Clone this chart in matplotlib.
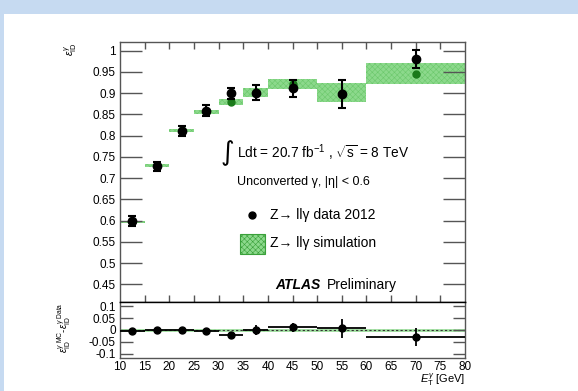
import numpy as np
import matplotlib
matplotlib.use('Agg')
import matplotlib.pyplot as plt
from matplotlib.patches import Rectangle
from matplotlib.lines import Line2D

plt.rcParams['font.family'] = ['Liberation Sans', 'DejaVu Sans']
plt.rcParams['mathtext.fontset'] = 'custom'
plt.rcParams['mathtext.rm'] = 'Liberation Sans'
plt.rcParams['mathtext.it'] = 'Liberation Sans:italic'
plt.rcParams['hatch.color'] = '#6cc86c'
plt.rcParams['hatch.linewidth'] = 0.4

# bins in E_T (GeV)
bin_lo = [10, 15, 20, 25, 30, 35, 40, 50, 60]
bin_hi = [15, 20, 25, 30, 35, 40, 50, 60, 80]

# data efficiency
eff_data = [0.599, 0.728, 0.811, 0.858, 0.900, 0.901, 0.911, 0.897, 0.980]
err_data = [0.012, 0.011, 0.012, 0.013, 0.013, 0.018, 0.020, 0.033, 0.022]

# MC efficiency and band half-width
eff_mc = [0.597, 0.730, 0.8125, 0.855, 0.879, 0.9025, 0.922, 0.901, 0.946]
err_mc = [0.003, 0.003, 0.003, 0.005, 0.007, 0.0105, 0.012, 0.022, 0.024]

# MC - data difference
diff = [-0.003, 0.0, 0.0, -0.006, -0.020, 0.0, 0.011, 0.007, -0.030]
diff_err = [0.008, 0.006, 0.006, 0.008, 0.010, 0.020, 0.020, 0.040, 0.037]

lo = np.array(bin_lo, dtype=float)
hi = np.array(bin_hi, dtype=float)
xc = (lo + hi) / 2
xe = (hi - lo) / 2

W, H = 578, 391
fig = plt.figure(figsize=(W / 100, H / 100), dpi=100)
fig.patch.set_facecolor('white')

# light blue frame of the page
fig.add_artist(Rectangle((0, 1 - 14 / H), 1, 14 / H, transform=fig.transFigure,
                         facecolor='#c6daf1', edgecolor='none'))
fig.add_artist(Rectangle((0, 0), 3.5 / W, 1, transform=fig.transFigure,
                         facecolor='#c6daf1', edgecolor='none'))

def fx(x):
    return x / W

def fy(y):
    return 1 - y / H

ax = fig.add_axes([fx(120), fy(301.7), 345 / W, 260 / H])
ax2 = fig.add_axes([fx(120), fy(358.3), 345 / W, 56.6 / H])

# simulation boxes
green = '#8cd98c'
ax.bar(xc, 2 * np.array(err_mc), width=hi - lo, bottom=np.array(eff_mc) - np.array(err_mc),
       color=green, hatch='xxxxxx', linewidth=0, zorder=1)
ax.plot(xc, eff_mc, 'o', color='#1a7a1a', markersize=5, zorder=2)
ax.errorbar(xc, eff_data, yerr=err_data, fmt='o', color='black', markersize=6,
            elinewidth=1.5, capsize=3, capthick=1.5, zorder=3)

ax.set_xlim(10, 80)
ax.set_ylim(0.409, 1.021)
ax.set_yticks(np.arange(0.45, 1.001, 0.05))
ax.set_yticklabels(['0.45', '0.5', '0.55', '0.6', '0.65', '0.7', '0.75', '0.8',
                    '0.85', '0.9', '0.95', '1'])
ax.set_xticks(np.arange(15, 80, 5))
ax.tick_params(axis='y', direction='in', length=16, width=1, color='#555555',
               labelsize=8.5, right=True, pad=3)
ax.tick_params(axis='x', direction='in', length=5, width=1, color='#555555',
               top=True, labelbottom=False)
for s in ax.spines.values():
    s.set_color('#555555')
    s.set_linewidth(1)
ax.spines['bottom'].set_color('black')

# difference panel
ax2.axhline(0, color='#9ee09e', linewidth=2, zorder=1)
ax2.axhline(0, color='#333333', linewidth=0.8, linestyle=(0, (2, 2)), zorder=1)
ax2.errorbar(xc, diff, xerr=xe, yerr=diff_err, fmt='o', color='black', markersize=5,
             elinewidth=1.3, capsize=0, zorder=3)
ax2.set_xlim(10, 80)
ax2.set_ylim(-0.118, 0.118)
ax2.set_yticks([-0.1, -0.05, 0, 0.05, 0.1])
ax2.set_yticklabels(['-0.1', '-0.05', '0', '0.05', '0.1'])
ax2.set_xticks(np.arange(10, 81, 5))
ax2.tick_params(axis='y', direction='in', length=9, width=1, color='#555555',
                labelsize=8.5, right=True, pad=3)
ax2.tick_params(axis='x', direction='in', length=0, labelsize=8.5, pad=2)
for s in ax2.spines.values():
    s.set_color('#555555')
    s.set_linewidth(1)
ax2.spines['top'].set_color('black')

# axis labels
fig.text(fx(71), fy(49), r'$\epsilon^{\gamma}_{\mathrm{ID}}$', rotation=90,
         ha='center', va='center', fontsize=7.5)
fig.text(fx(64), fy(328), r'$\epsilon^{\gamma\ \mathrm{MC}}_{\mathrm{ID}}$-$\epsilon^{\gamma\ \mathrm{Data}}_{\mathrm{ID}}$',
         rotation=90, ha='center', va='center', fontsize=7)
fig.text(fx(465), fy(380), r'$E^{\gamma}_{\mathrm{T}}$ [GeV]', ha='right', va='center',
         fontsize=8)

# annotations
fig.text(fx(227), fy(153), '\u222b', ha='center', va='center', fontsize=19,
         family='DejaVu Sans')
fig.text(fx(237), fy(153), r'Ldt = 20.7 fb$^{\mathrm{-1}}$ , $\sqrt{\mathrm{s}}$ = 8 TeV',
         ha='left', va='center', fontsize=9.8)
fig.text(fx(237), fy(182), 'Unconverted \u03b3, |\u03b7| < 0.6', ha='left', va='center',
         fontsize=9)
fig.add_artist(Line2D([fx(252)], [fy(215)], marker='o', color='black', markersize=5,
                      transform=fig.transFigure))
fig.text(fx(270), fy(215), 'Z\u2192 ll\u03b3 data 2012', ha='left', va='center', fontsize=10)
fig.add_artist(Rectangle((fx(240), fy(254)), 25 / W, 20 / H, transform=fig.transFigure,
                         facecolor=green, hatch='xxxxxx', edgecolor='#3aa03a',
                         linewidth=0.8))
fig.text(fx(270), fy(243), 'Z\u2192 ll\u03b3 simulation', ha='left', va='center', fontsize=10)
fig.text(fx(275), fy(285), 'ATLAS', ha='left', va='center', fontsize=10,
         fontweight='bold', fontstyle='italic')
fig.text(fx(327), fy(285), 'Preliminary', ha='left', va='center', fontsize=10)

fig.savefig('out.png', dpi=100)
